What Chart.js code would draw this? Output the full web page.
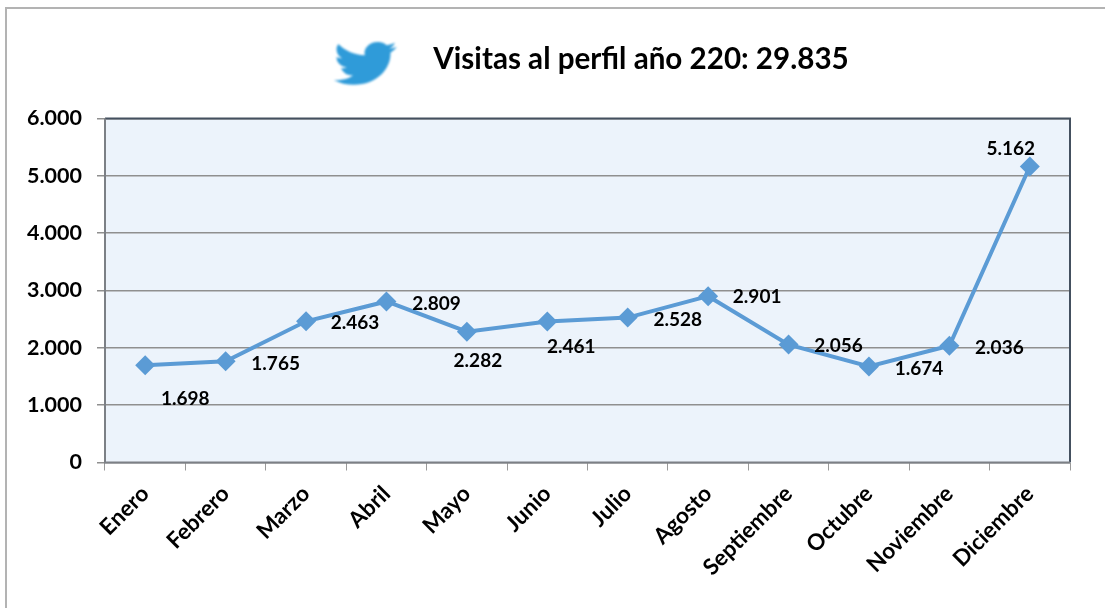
<!DOCTYPE html>
<html>
<head>
<meta charset="utf-8">
<title>Visitas al perfil</title>
<script src="https://cdn.jsdelivr.net/npm/chart.js@4"></script>
<style>
  html, body { margin: 0; padding: 0; background: #fff; }
  canvas { display: block; }
</style>
</head>
<body>
<canvas id="chart-visitas" width="1105" height="608"></canvas>
<script>
const meses = ['Enero', 'Febrero', 'Marzo', 'Abril', 'Mayo', 'Junio', 'Julio', 'Agosto', 'Septiembre', 'Octubre', 'Noviembre', 'Diciembre'];
const visitas = [1698, 1765, 2463, 2809, 2282, 2461, 2528, 2901, 2056, 1674, 2036, 5162];
const titulo = 'Visitas al perfil año 220: 29.835';

const fuente = 'Lato, "Open Sans", sans-serif';
const azul = '#5b9bd5';

// where each value label sits, relative to its point
const desplazamientos = [[40, 34], [50, 3], [49, 2], [50, 2], [11, 29], [24, 25], [50, 2], [49, 1], [50, 1], [50, 2], [50, 2], [-19, -18]];

const pajaro = new Path2D('M23.953 4.57a10 10 0 01-2.825.775 4.958 4.958 0 002.163-2.723c-.951.555-2.005.959-3.127 1.184a4.92 4.92 0 00-8.384 4.482C7.69 8.095 4.067 6.13 1.64 3.162a4.822 4.822 0 00-.666 2.475c0 1.71.87 3.213 2.188 4.096a4.904 4.904 0 01-2.228-.616v.06a4.923 4.923 0 003.946 4.827 4.996 4.996 0 01-2.212.085 4.936 4.936 0 004.604 3.417 9.867 9.867 0 01-6.102 2.105c-.39 0-.779-.023-1.17-.067a13.995 13.995 0 007.557 2.209c9.053 0 13.998-7.496 13.998-13.985 0-.21 0-.42-.015-.63A9.935 9.935 0 0024 4.59z');

function formato(valor) {
  return String(valor).replace(/\B(?=(\d{3})+$)/g, '.');
}

const decoracion = {
  id: 'decoracion',
  beforeDraw(chart) {
    const { ctx, chartArea: a } = chart;
    ctx.save();
    // outer frame
    ctx.strokeStyle = '#b3b3b3';
    ctx.lineWidth = 2;
    ctx.beginPath();
    ctx.moveTo(6, 608);
    ctx.lineTo(6, 8);
    ctx.lineTo(1105, 8);
    ctx.stroke();
    // plot background
    ctx.fillStyle = '#ecf3fb';
    ctx.fillRect(a.left, a.top, a.width, a.height);
    // title
    ctx.fillStyle = '#000';
    ctx.font = 'bold 29.6px ' + fuente;
    ctx.textAlign = 'center';
    ctx.textBaseline = 'middle';
    ctx.fillText(titulo, 641, 59);
    // bird
    ctx.translate(334, 37);
    ctx.scale(2.62, 2.2);
    ctx.filter = 'blur(0.8px)';
    ctx.fillStyle = '#2f9bd9';
    ctx.fill(pajaro);
    ctx.restore();
  },
  beforeDatasetsDraw(chart) {
    const { ctx, chartArea: a } = chart;
    ctx.save();
    ctx.lineWidth = 2;
    ctx.strokeStyle = '#44505f';
    ctx.beginPath();
    ctx.moveTo(a.left, a.top);
    ctx.lineTo(a.right, a.top);
    ctx.lineTo(a.right, a.bottom);
    ctx.stroke();
    ctx.strokeStyle = '#7c8086';
    ctx.beginPath();
    ctx.moveTo(a.left, a.top);
    ctx.lineTo(a.left, a.bottom);
    ctx.lineTo(a.right, a.bottom);
    ctx.stroke();
    ctx.restore();
  },
  afterDatasetsDraw(chart) {
    const { ctx } = chart;
    const puntos = chart.getDatasetMeta(0).data;
    ctx.save();
    ctx.fillStyle = '#000';
    ctx.font = 'bold 19px ' + fuente;
    ctx.textAlign = 'center';
    ctx.textBaseline = 'middle';
    puntos.forEach((p, i) => {
      ctx.fillText(formato(visitas[i]), p.x + desplazamientos[i][0], p.y + desplazamientos[i][1]);
    });
    ctx.restore();
  }
};

new Chart(document.getElementById('chart-visitas'), {
  type: 'line',
  plugins: [decoracion],
  data: {
    labels: meses,
    datasets: [{
      data: visitas,
      borderColor: azul,
      backgroundColor: azul,
      borderWidth: 4,
      pointStyle: 'rectRot',
      pointRadius: 10,
      pointBorderWidth: 0,
      pointBackgroundColor: azul,
      tension: 0
    }]
  },
  options: {
    responsive: false,
    animation: false,
    layout: { padding: { top: 118.5, right: 35 } },
    plugins: {
      legend: { display: false },
      title: { display: false },
      tooltip: { enabled: false }
    },
    scales: {
      x: {
        offset: true,
        afterFit(axis) { axis.height = 145.5; },
        grid: { offset: true, drawOnChartArea: false, drawTicks: true, tickLength: 8, color: '#9a9a9a' },
        border: { display: false },
        ticks: {
          minRotation: 45,
          maxRotation: 45,
          autoSkip: false,
          padding: 10,
          color: '#000',
          font: { family: fuente, size: 22.5, weight: 'bold' }
        }
      },
      y: {
        min: 0,
        max: 6000,
        afterFit(axis) { axis.width = 105; },
        grid: { color: '#8f8f8f', lineWidth: 1.5, tickLength: 8 },
        border: { display: false },
        ticks: {
          stepSize: 1000,
          padding: 15,
          color: '#000',
          font: { family: fuente, size: 21.5, weight: 'bold' },
          callback: formato
        }
      }
    }
  }
});
</script>
</body>
</html>
